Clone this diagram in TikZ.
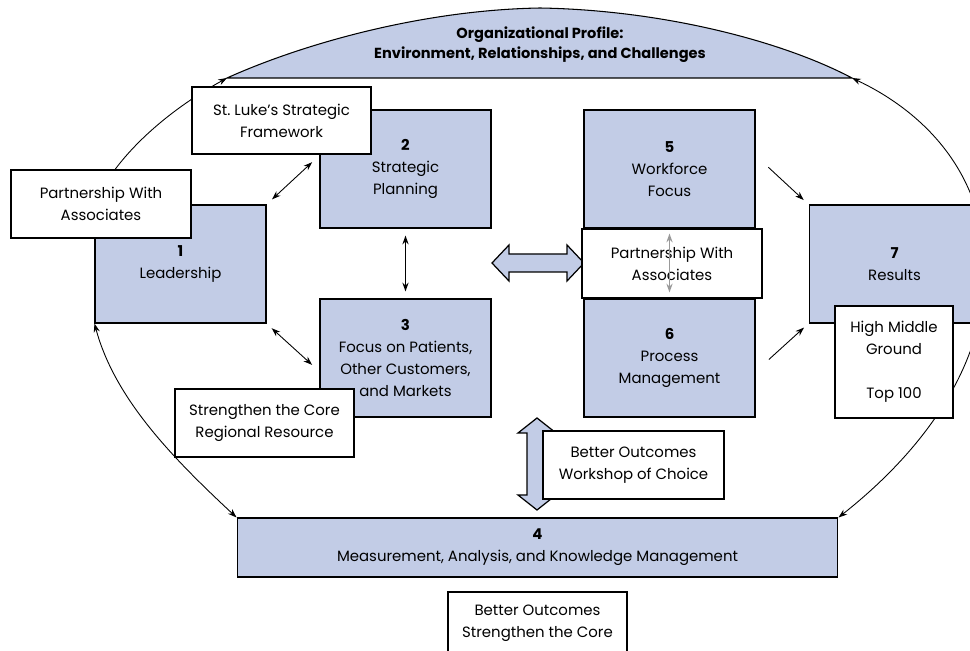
\documentclass[tikz,border=0pt]{standalone}
\usepackage{fontspec}
\setmainfont{Poppins}
\usetikzlibrary{arrows.meta}
\definecolor{boxblue}{RGB}{194,204,230}

\begin{document}
\begin{tikzpicture}[x=0.02cm,y=-0.02cm,font=\fontsize{8.5}{12.6}\selectfont]
  \tikzset{
    category/.style={draw,line width=0.6pt,fill=boxblue,align=center,minimum width=3.42cm,minimum height=2.36cm,inner sep=0pt},
    tag/.style={draw,line width=0.6pt,fill=white,align=center,inner sep=0pt},
    link/.style={>={Stealth[length=5pt,width=3.5pt]},line width=0.5pt},
    bigarrow/.style={draw,fill=boxblue,line width=0.7pt},
  }
  \useasboundingbox (0,0) rectangle (970,651);

  \node[category] (lead) at (180.5,264) {\textbf{1}\\Leadership};
  \node[category,minimum width=12.02cm,minimum height=1.18cm] (measure) at (537.5,547.5)
    {\textbf{4}\\Measurement, Analysis, and Knowledge Management};

  % organizational profile on top
  \coordinate (prof-w) at (227,78);
  \coordinate (prof-e) at (852,78);
  \draw[line width=0.6pt,fill=boxblue] (prof-w) .. controls (300,45) and (420,10) .. (540,8)
    .. controls (660,10) and (780,40) .. (prof-e) -- cycle;
  \node[font=\bfseries\fontsize{8.3}{11.4}\selectfont,align=center] (profile) at (540,45)
    {Organizational Profile:\\Environment, Relationships, and Challenges};

  % outer loop
  \draw[link,<->] (lead.north west) .. controls (115,160) and (160,115) .. (prof-w);
  \draw[link,<->] (lead.south west) .. controls (115,400) and (175,460) .. (measure.north west);
  \draw[link,<->] (measure.north east) .. controls (905,465) and (985,380) .. (985,270)
    .. controls (985,170) and (920,110) .. (prof-e);

  \node[category] (plan) at (405.5,169) {\textbf{2}\\Strategic\\Planning};
  \node[category] (customers) at (405.5,358) {\textbf{3}\\Focus on Patients,\\Other Customers,\\and Markets};
  \node[category] (workforce) at (669.5,169) {\textbf{5}\\Workforce\\Focus};
  \node[category] (process) at (669.5,358) {\textbf{6}\\Process\\Management};
  \node[category] (results) at (894.5,264) {\textbf{7}\\Results};

  % block arrows
  \draw[bigarrow] (492,263) -- (509,245) -- (509,254) -- (567,254) -- (567,245) -- (584,263)
    -- (567,281) -- (567,272) -- (509,272) -- (509,281) -- cycle;
  \draw[bigarrow] (537,418) -- (556,433) -- (547,433) -- (547,495) -- (556,495) -- (537,510)
    -- (518,495) -- (527,495) -- (527,433) -- (518,433) -- cycle;

  \node[tag,minimum width=3.58cm,minimum height=1.34cm] (framework) at (281.5,120.5) {St.\ Luke's Strategic\\Framework};
  \node[tag,minimum width=3.6cm,minimum height=1.36cm] (partner-l) at (101,204) {Partnership With\\Associates};
  \node[tag,minimum width=3.58cm,minimum height=1.36cm] (core-l) at (264.5,423) {Strengthen the Core\\Regional Resource};
  \node[tag,minimum width=3.6cm,minimum height=1.38cm] (partner-c) at (672,263.5) {Partnership With\\Associates};
  \node[tag,minimum width=2.36cm,minimum height=2.24cm] (ground) at (894,362) {High Middle\\Ground\\~\\Top 100};
  \node[tag,minimum width=3.62cm,minimum height=1.36cm] (workshop) at (633.5,465) {Better Outcomes\\Workshop of Choice};
  \node[tag,minimum width=3.58cm,minimum height=1.24cm] (outcomes) at (537.5,623) {Better Outcomes\\Strengthen the Core};

  % inner links
  \draw[link,<->,shorten <=0.15cm,shorten >=0.2cm] (lead.north east) -- (plan.171);
  \draw[link,<->,shorten <=0.14cm,shorten >=0.2cm] (lead.south east) -- (customers.189);
  \draw[link,<->,line width=1.1pt,shorten <=0.14cm,shorten >=0.14cm] (plan) -- (customers);
  \draw[link,->,shorten <=0.35cm,shorten >=0.13cm] (workforce.9) -- (results.north west);
  \draw[link,->,shorten <=0.36cm,shorten >=0.12cm] (process.-9) -- (results.south west);
  \draw[link,<->,gray!80,line width=0.9pt,shorten <=0.1cm,shorten >=0.12cm] (workforce) -- (process);
\end{tikzpicture}
\end{document}
